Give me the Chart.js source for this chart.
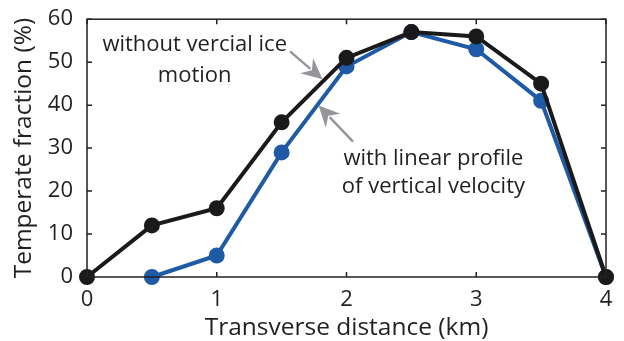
<!DOCTYPE html>
<html><head><meta charset="utf-8">
<script src="https://cdn.jsdelivr.net/npm/chart.js@4/dist/chart.umd.min.js"></script>
<style>html,body{margin:0;padding:0;background:#fff}#wrap{width:624px;height:341px}</style>
</head><body><div id="wrap"><canvas id="c" width="624" height="341"></canvas></div>
<script>
const xNoVert = [0, 0.5, 1, 1.5, 2, 2.5, 3, 3.5, 4];
const yNoVert = [0, 12, 16, 36, 51, 57, 56, 45, 0];
const xLinear = [0.5, 1, 1.5, 2, 2.5, 3, 3.5, 4];
const yLinear = [0, 5, 29, 49, 57, 53, 41, 0];
const xTicks = [0, 1, 2, 3, 4];
const yTicks = [0, 10, 20, 30, 40, 50, 60];
const labelNoVert = ["without vercial ice", "motion"];
const labelLinear = ["with linear profile", "of vertical velocity"];

const FONT = "'Open Sans', sans-serif";
const TXT = '#231f20';

const boxPlugin = {
  id: 'box',
  afterDatasetsDraw(chart) {
    const {ctx, chartArea: a, scales: {x, y}} = chart;
    ctx.save();
    ctx.strokeStyle = TXT; ctx.lineWidth = 1.5;
    ctx.strokeRect(a.left, a.top, a.right - a.left, a.bottom - a.top);
    const L = 5;
    ctx.beginPath();
    xTicks.forEach(v => { const px = x.getPixelForValue(v);
      ctx.moveTo(px, a.bottom); ctx.lineTo(px, a.bottom - L);
      ctx.moveTo(px, a.top); ctx.lineTo(px, a.top + L); });
    yTicks.forEach(v => { const py = y.getPixelForValue(v);
      ctx.moveTo(a.left, py); ctx.lineTo(a.left + L, py);
      ctx.moveTo(a.right, py); ctx.lineTo(a.right - L, py); });
    ctx.stroke();
    ctx.restore();
  },
  afterDraw(chart) {
    const {ctx, scales: {x, y}} = chart;
    ctx.save();
    ctx.fillStyle = TXT;
    ctx.font = "22px " + FONT;
    ctx.textAlign = 'center'; ctx.textBaseline = 'alphabetic';
    ctx.fillText(labelNoVert[0], x.getPixelForValue(0.83), y.getPixelForValue(52.5));
    ctx.fillText(labelNoVert[1], x.getPixelForValue(0.83), y.getPixelForValue(45.5));
    ctx.fillText(labelLinear[0], x.getPixelForValue(2.67), y.getPixelForValue(26));
    ctx.fillText(labelLinear[1], x.getPixelForValue(2.67), y.getPixelForValue(19.5));
    function arrow(x0, y0, x1, y1) {
      const X0 = x.getPixelForValue(x0), Y0 = y.getPixelForValue(y0);
      const X1 = x.getPixelForValue(x1), Y1 = y.getPixelForValue(y1);
      const ang = Math.atan2(Y1 - Y0, X1 - X0);
      const hl = 21, hw = 10;
      const bx = X1 - hl * Math.cos(ang), by = Y1 - hl * Math.sin(ang);
      ctx.strokeStyle = '#939598'; ctx.fillStyle = '#939598'; ctx.lineWidth = 2.4;
      ctx.beginPath(); ctx.moveTo(X0, Y0); ctx.lineTo(bx + 5 * Math.cos(ang), by + 5 * Math.sin(ang)); ctx.stroke();
      ctx.beginPath();
      ctx.moveTo(X1, Y1);
      ctx.lineTo(bx + hw * Math.sin(ang), by - hw * Math.cos(ang));
      ctx.lineTo(X1 - (hl - 7) * Math.cos(ang), Y1 - (hl - 7) * Math.sin(ang));
      ctx.lineTo(bx - hw * Math.sin(ang), by + hw * Math.cos(ang));
      ctx.closePath(); ctx.fill();
    }
    arrow(1.565, 52.5, 1.815, 46.0);
    arrow(2.05, 31.5, 1.785, 39.9);
    ctx.restore();
  }
};

new Chart(document.getElementById('c'), {
  type: 'scatter',
  data: {
    datasets: [
      { label: 'linear', data: xLinear.map((v, i) => ({x: v, y: yLinear[i]})),
        showLine: true, borderColor: '#1f5aa6', backgroundColor: '#1f5aa6',
        borderWidth: 4, pointRadius: 6, pointHoverRadius: 6, clip: false, order: 2 },
      { label: 'novert', data: xNoVert.map((v, i) => ({x: v, y: yNoVert[i]})),
        showLine: true, borderColor: '#1a1a1a', backgroundColor: '#1a1a1a',
        borderWidth: 4, pointRadius: 6, pointHoverRadius: 6, clip: false, order: 1 }
    ]
  },
  options: {
    responsive: false, animation: false, devicePixelRatio: 1,
    layout: { padding: { top: 18, right: 18, left: 0, bottom: 0 } },
    plugins: { legend: { display: false }, tooltip: { enabled: false } },
    scales: {
      x: {
        type: 'linear', min: 0, max: 4,
        afterBuildTicks: s => { s.ticks = xTicks.map(v => ({value: v})); },
        afterFit: s => { s.height = 64; },
        grid: { display: false }, border: { display: false },
        ticks: { color: TXT, font: { family: FONT, size: 22 }, padding: 2 },
        title: { display: true, text: 'Transverse distance (km)', color: TXT,
          font: { family: FONT, size: 24.5 }, padding: { top: 0, bottom: -2 } }
      },
      y: {
        type: 'linear', min: 0, max: 60,
        afterBuildTicks: s => { s.ticks = yTicks.map(v => ({value: v})); },
        afterFit: s => { s.width = 87; },
        grid: { display: false }, border: { display: false },
        ticks: { color: TXT, font: { family: FONT, size: 22 }, padding: 6 },
        title: { display: true, text: 'Temperate fraction (%)', color: TXT,
          font: { family: FONT, size: 24.5 }, padding: { top: 9, bottom: 0 } }
      }
    }
  },
  plugins: [boxPlugin]
});
</script></body></html>
